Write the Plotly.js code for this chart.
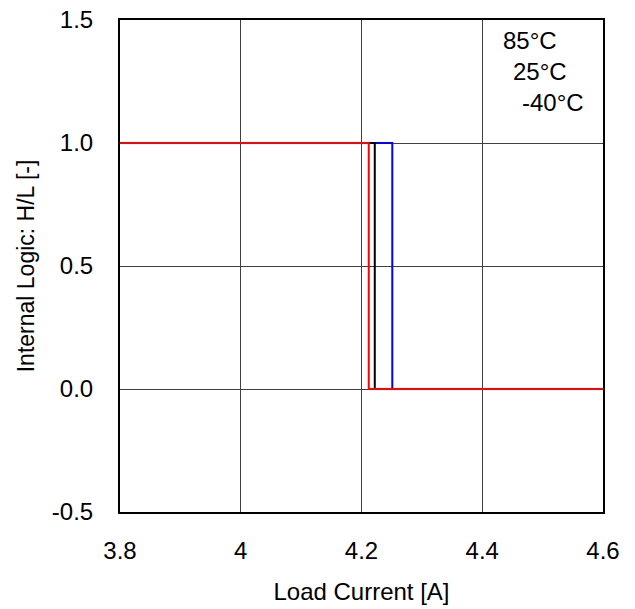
<!DOCTYPE html>
<html>
<head>
<meta charset="utf-8">
<script src="https://cdn.plot.ly/plotly-3.0.1.min.js"></script>
<style>html,body{margin:0;padding:0;background:#fff;}#chart{width:635px;height:609px;}</style>
</head>
<body>
<div id="chart"></div>
<script>
// Data
var seriesNames = ["-40°C", "25°C", "85°C"];
var seriesColors = ["#0000ff", "#000000", "#ff0000"];
var xBlue = [3.8, 4.251, 4.251, 4.6];
var yBlue = [1, 1, 0, 0];
var xBlack = [3.8, 4.222, 4.222, 4.6];
var yBlack = [1, 1, 0, 0];
var xRed = [3.8, 4.212, 4.212, 4.6];
var yRed = [1, 1, 0, 0];
var xTicks = [3.8, 4, 4.2, 4.4, 4.6];
var xTickLabels = ["3.8", "4", "4.2", "4.4", "4.6"];
var yTicks = [-0.5, 0, 0.5, 1.0, 1.5];
var yTickLabels = ["-0.5", "0.0", "0.5", "1.0", "1.5"];
var labelTexts = ["85°C", "25°C", "-40°C"];
var labelX = [4.431, 4.448, 4.462];
var labelY = [1.415, 1.289, 1.163];

var xs = [xBlue, xBlack, xRed];
var ys = [yBlue, yBlack, yRed];
var traces = xs.map(function (x, i) {
  return {x: x, y: ys[i], mode: "lines", name: seriesNames[i],
          line: {color: seriesColors[i], width: 2}, hoverinfo: "skip"};
});

var font = {family: "Liberation Sans, Arial, sans-serif", size: 24, color: "#000"};
var yTitleFont = {family: "Liberation Sans, Arial, sans-serif", size: 23, color: "#000"};
var layout = {
  width: 635, height: 609,
  margin: {l: 120, r: 32, t: 20, b: 97},
  showlegend: false,
  paper_bgcolor: "#fff", plot_bgcolor: "#fff",
  font: font,
  xaxis: {range: [3.8, 4.6], tickvals: xTicks, ticktext: xTickLabels,
          showgrid: true, gridcolor: "#404040", gridwidth: 1, zeroline: false,
          showline: true, mirror: true, linecolor: "#000", linewidth: 2,
          ticks: "", ticklen: 0, tickfont: font, ticklabelstandoff: 16,
          title: {text: "Load Current [A]", font: font, standoff: 20}},
  yaxis: {range: [-0.5, 1.5], tickvals: yTicks, ticktext: yTickLabels,
          showgrid: true, gridcolor: "#404040", gridwidth: 1, zeroline: false,
          showline: true, mirror: true, linecolor: "#000", linewidth: 2,
          ticks: "", ticklen: 0, tickfont: font, ticklabelstandoff: 20,
          title: {text: "Internal Logic: H/L [-]", font: yTitleFont, standoff: 11}},
  annotations: labelTexts.map(function (t, i) {
    return {x: labelX[i], y: labelY[i], xref: "x", yref: "y", text: t,
            showarrow: false, xanchor: "left", yanchor: "middle", font: font};
  })
};
Plotly.newPlot("chart", traces, layout, {displayModeBar: false, staticPlot: true});
</script>
</body>
</html>
